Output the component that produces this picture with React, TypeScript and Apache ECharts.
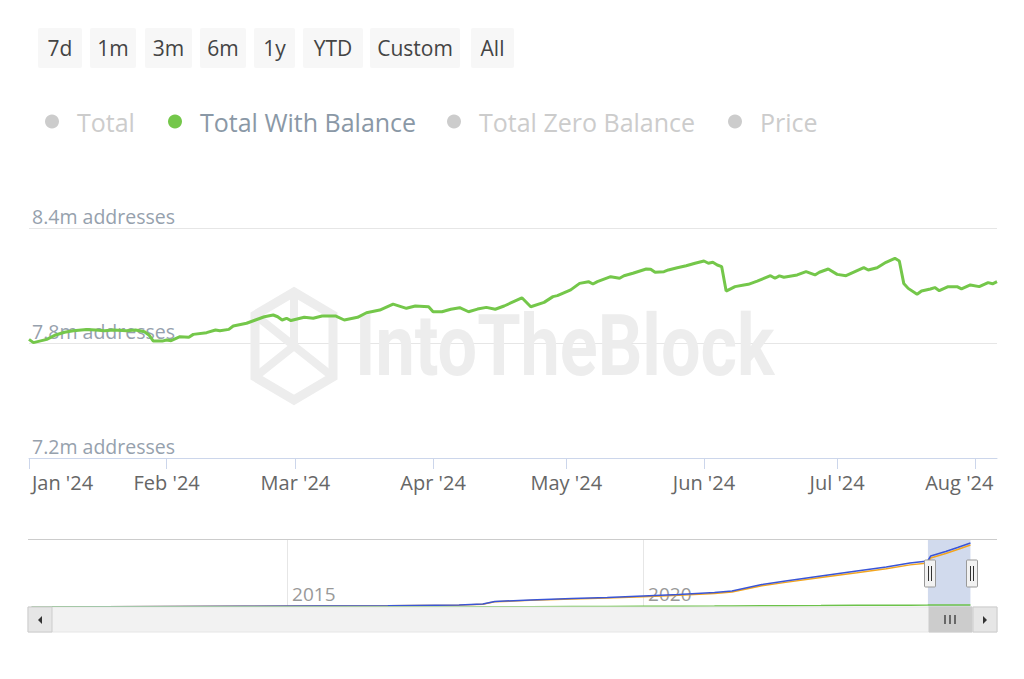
import React, { useEffect, useRef } from 'react';
import * as echarts from 'echarts';

const FONT = "'Open Sans', 'Noto Sans', sans-serif";

const rangeButtons = ['7d', '1m', '3m', '6m', '1y', 'YTD', 'Custom', 'All'];
const legendNames = ['Total', 'Total With Balance', 'Total Zero Balance', 'Price'];

const monthStarts = ['2024-01-01', '2024-02-01', '2024-03-01', '2024-04-01', '2024-05-01', '2024-06-01', '2024-07-01', '2024-08-01'];
const monthLabels = ["Jan '24", "Feb '24", "Mar '24", "Apr '24", "May '24", "Jun '24", "Jul '24", "Aug '24"];
const yTickStep = 0.6;
const yMin = 7.2;
const yMax = 8.4;

const navYears = ['2015-01-01', '2020-01-01'];
const navYearLabels = ['2015', '2020'];

// Total With Balance (millions of addresses), Jan - Aug 2024
const dates = [
  '2024-01-01', '2024-01-02', '2024-01-05', '2024-01-07', '2024-01-09', '2024-01-11', '2024-01-14', '2024-01-16',
  '2024-01-18', '2024-01-20', '2024-01-23', '2024-01-25', '2024-01-27', '2024-01-28', '2024-01-29', '2024-01-31',
  '2024-02-01', '2024-02-02', '2024-02-04', '2024-02-06', '2024-02-07', '2024-02-10', '2024-02-12', '2024-02-13',
  '2024-02-15', '2024-02-16', '2024-02-19', '2024-02-21', '2024-02-23', '2024-02-25', '2024-02-26', '2024-02-27',
  '2024-02-28', '2024-02-29', '2024-03-03', '2024-03-05', '2024-03-07', '2024-03-10', '2024-03-12', '2024-03-15',
  '2024-03-17', '2024-03-20', '2024-03-23', '2024-03-26', '2024-03-28', '2024-03-31', '2024-04-01', '2024-04-03',
  '2024-04-05', '2024-04-07', '2024-04-09', '2024-04-11', '2024-04-13', '2024-04-15', '2024-04-17', '2024-04-21',
  '2024-04-23', '2024-04-26', '2024-04-28', '2024-04-29', '2024-05-02', '2024-05-04', '2024-05-06', '2024-05-07',
  '2024-05-08', '2024-05-11', '2024-05-13', '2024-05-14', '2024-05-16', '2024-05-19', '2024-05-20', '2024-05-21',
  '2024-05-23', '2024-05-24', '2024-05-26', '2024-05-28', '2024-05-30', '2024-06-01', '2024-06-02', '2024-06-03',
  '2024-06-04', '2024-06-05', '2024-06-06', '2024-06-08', '2024-06-10', '2024-06-11', '2024-06-13', '2024-06-16',
  '2024-06-17', '2024-06-18', '2024-06-19', '2024-06-22', '2024-06-24', '2024-06-26', '2024-06-27', '2024-06-29',
  '2024-07-01', '2024-07-03', '2024-07-05', '2024-07-07', '2024-07-08', '2024-07-10', '2024-07-12', '2024-07-14',
  '2024-07-15', '2024-07-16', '2024-07-17', '2024-07-19', '2024-07-20', '2024-07-22', '2024-07-23', '2024-07-24',
  '2024-07-26', '2024-07-28', '2024-07-29', '2024-07-31', '2024-08-02', '2024-08-04', '2024-08-05', '2024-08-06',
];
const totalWithBalance = [
  7.819, 7.802, 7.819, 7.842, 7.856, 7.864, 7.871, 7.868,
  7.864, 7.868, 7.864, 7.868, 7.859, 7.842, 7.810, 7.810,
  7.816, 7.812, 7.833, 7.830, 7.845, 7.854, 7.868, 7.864,
  7.871, 7.889, 7.903, 7.920, 7.937, 7.946, 7.937, 7.920,
  7.929, 7.917, 7.934, 7.929, 7.941, 7.941, 7.920, 7.934,
  7.958, 7.972, 8.003, 7.981, 7.993, 7.989, 7.963, 7.963,
  7.976, 7.984, 7.963, 7.977, 7.986, 7.976, 7.993, 8.036,
  7.989, 8.012, 8.042, 8.047, 8.077, 8.111, 8.120, 8.108,
  8.120, 8.146, 8.138, 8.151, 8.164, 8.186, 8.185, 8.169,
  8.172, 8.181, 8.193, 8.203, 8.216, 8.228, 8.216, 8.221,
  8.207, 8.198, 8.071, 8.094, 8.103, 8.106, 8.123, 8.151,
  8.138, 8.150, 8.143, 8.155, 8.172, 8.155, 8.169, 8.186,
  8.158, 8.151, 8.172, 8.193, 8.181, 8.193, 8.221, 8.242,
  8.228, 8.111, 8.085, 8.054, 8.071, 8.082, 8.089, 8.073,
  8.094, 8.094, 8.082, 8.103, 8.094, 8.115, 8.109, 8.120,
];

// Navigator (full history, millions)
const navDates = [
  '2011-06-01', '2012-06-01', '2013-06-01', '2014-06-01', '2015-06-01', '2016-06-01', '2017-06-01', '2017-10-01',
  '2017-12-01', '2018-06-01', '2019-01-01', '2019-07-01', '2020-01-01', '2020-07-01', '2021-01-01', '2021-04-01',
  '2021-09-01', '2022-01-01', '2022-07-01', '2023-01-01', '2023-06-01', '2023-10-01', '2023-12-31', '2024-01-15',
  '2024-04-01', '2024-06-01', '2024-08-06',
];
const navTotal = [0.5, 1, 2, 3, 4, 5, 8, 12, 22, 28, 34, 38, 44, 50, 58, 64, 90, 104, 124, 144, 160, 176, 184, 204, 222, 238, 256];
const navZeroBalance = [0.5, 1, 2, 3, 4, 5, 7.5, 11, 21, 26.5, 32, 35.5, 41, 46.5, 54, 59.6, 85, 98.5, 118, 137, 152.8, 168.5, 176.2, 196.1, 214, 230, 247.9];
const navWithBalance = [0, 0, 0, 0, 0, 0, 0.5, 1, 1, 1.5, 2, 2.5, 3, 3.5, 4, 4.4, 5, 5.5, 6, 7, 7.2, 7.5, 7.8, 7.9, 8, 8, 8.1];

const ts = (s: string) => Date.parse(s + 'T00:00:00Z');

export default function App() {
  const ref = useRef<HTMLDivElement>(null);

  useEffect(() => {
    if (!ref.current) return;
    const chart = echarts.init(ref.current, null, { renderer: 'svg' });

    const monthTs = monthStarts.map(ts);
    const navYearTs = navYears.map(ts);
    const mainData = dates.map((d, i) => [ts(d), totalWithBalance[i]]);
    const navT = navDates.map((d, i) => [ts(d), navTotal[i]]);
    const navZ = navDates.map((d, i) => [ts(d), navZeroBalance[i]]);
    const navW = navDates.map((d, i) => [ts(d), navWithBalance[i]]);

    const green = '#74c74a';
    const selected: Record<string, boolean> = {
      'Total': false,
      'Total With Balance': true,
      'Total Zero Balance': false,
      'Price': false,
    };
    const legendLefts = [45, 168, 447, 728];
    const legends = legendNames.map((n, i) => ({
      data: [n],
      left: legendLefts[i],
      top: 109,
      padding: 0,
      icon: 'circle',
      itemWidth: 40,
      itemHeight: 14,
      selected,
      inactiveColor: '#cccccc',
      textStyle: { fontSize: 25, fontFamily: FONT, color: '#8a98a6' },
    }));

    const btnBoxes = [[38, 44], [90, 46], [145, 47], [200, 46], [254, 41], [303, 60], [370, 90], [471, 43]];
    const graphics: any[] = [];
    rangeButtons.forEach((b, i) => {
      const [x, w] = btnBoxes[i];
      graphics.push({
        type: 'rect', z: 5,
        shape: { x, y: 28, width: w, height: 40, r: 2 },
        style: { fill: '#f7f7f7' },
      });
      graphics.push({
        type: 'text', z: 6, x: x + w / 2, y: 48,
        style: {
          text: b, fill: '#444444', font: `21px ${FONT}`,
          align: 'center', verticalAlign: 'middle', textAlign: 'center', textVerticalAlign: 'middle',
        },
      });
    });

    // watermark
    const wm = '#ededed';
    graphics.push({
      type: 'group', x: 355, y: 345, scaleX: 0.815, z: 1,
      children: [{
        type: 'text', x: 0, y: 0, z: 1,
        style: {
          text: 'IntoTheBlock', fill: wm, font: `bold 86px Roboto, ${FONT}`,
          align: 'left', verticalAlign: 'middle', textAlign: 'left', textVerticalAlign: 'middle',
        },
      }],
    });
    graphics.push({
      type: 'polygon', z: 1,
      shape: { points: [[294, 292], [333, 315], [333, 377], [294, 400], [255, 377], [255, 315]] },
      style: { fill: 'none', stroke: wm, lineWidth: 9 },
    });
    graphics.push({
      type: 'polyline', z: 1,
      shape: { points: [[294, 292], [294, 346], [255, 377]] },
      style: { fill: 'none', stroke: wm, lineWidth: 8 },
    });
    graphics.push({
      type: 'polyline', z: 1,
      shape: { points: [[255, 315], [333, 377]] },
      style: { fill: 'none', stroke: wm, lineWidth: 8 },
    });

    // navigator outline and handles
    graphics.push({
      type: 'line', z: 8,
      shape: { x1: 28, y1: 539.5, x2: 997, y2: 539.5 },
      style: { stroke: '#cccccc', lineWidth: 1 },
    });
    [930, 972].forEach((hx) => {
      graphics.push({
        type: 'rect', z: 20,
        shape: { x: hx - 5.5, y: 560, width: 11, height: 27, r: 1 },
        style: { fill: '#f2f2f2', stroke: '#999999', lineWidth: 1 },
      });
      graphics.push({
        type: 'line', z: 21,
        shape: { x1: hx - 1.5, y1: 566, x2: hx - 1.5, y2: 581 },
        style: { stroke: '#333333', lineWidth: 1 },
      });
      graphics.push({
        type: 'line', z: 21,
        shape: { x1: hx + 1.5, y1: 566, x2: hx + 1.5, y2: 581 },
        style: { stroke: '#333333', lineWidth: 1 },
      });
    });
    // scrollbar
    graphics.push({ type: 'rect', z: 8, shape: { x: 28, y: 607, width: 969, height: 25 }, style: { fill: '#f2f2f2', stroke: '#e6e6e6', lineWidth: 1 } });
    graphics.push({ type: 'rect', z: 9, shape: { x: 28, y: 607, width: 24, height: 25 }, style: { fill: '#e6e6e6', stroke: '#cccccc', lineWidth: 1 } });
    graphics.push({ type: 'rect', z: 9, shape: { x: 973, y: 607, width: 24, height: 25 }, style: { fill: '#e6e6e6', stroke: '#cccccc', lineWidth: 1 } });
    graphics.push({ type: 'rect', z: 9, shape: { x: 929, y: 607, width: 43, height: 25 }, style: { fill: '#cccccc', stroke: '#cccccc', lineWidth: 1 } });
    [945, 950, 955].forEach((lx) => {
      graphics.push({ type: 'line', z: 10, shape: { x1: lx, y1: 615, x2: lx, y2: 624 }, style: { stroke: '#333333', lineWidth: 1.3 } });
    });
    graphics.push({ type: 'polygon', z: 10, shape: { points: [[42, 616], [42, 624], [38, 620]] }, style: { fill: '#333333' } });
    graphics.push({ type: 'polygon', z: 10, shape: { points: [[983, 616], [983, 624], [987, 620]] }, style: { fill: '#333333' } });

    const option: any = {
      animation: false,
      backgroundColor: '#ffffff',
      textStyle: { fontFamily: FONT },
      legend: legends,
      graphic: { elements: graphics },
      grid: [
        { left: 29, right: 27, top: 228, bottom: 221, containLabel: false },
        { left: 28, right: 52, top: 539, bottom: 72, containLabel: false },
      ],
      xAxis: [
        {
          type: 'value', gridIndex: 0,
          min: ts('2024-01-01'), max: ts('2024-08-06'),
          axisLine: { show: true, lineStyle: { color: '#ccd6eb', width: 1 } },
          axisTick: { show: true, customValues: monthTs, length: 11, lineStyle: { color: '#ccd6eb' } },
          splitLine: { show: false },
          axisLabel: {
            customValues: monthTs,
            margin: 14,
            fontSize: 20, fontFamily: FONT, color: '#666666',
            formatter: (v: number) => {
              const i = monthTs.indexOf(v);
              const lab = i >= 0 ? monthLabels[i] : '';
              if (i === 0) return `{first|${lab}}`;
              if (i === monthLabels.length - 1) return `{last|${lab}}`;
              return lab;
            },
            rich: {
              first: { padding: [0, 0, 0, 67], fontSize: 20, fontFamily: FONT, color: '#666666' },
              last: { padding: [0, 31, 0, 0], fontSize: 20, fontFamily: FONT, color: '#666666' },
            },
          },
        },
        {
          type: 'value', gridIndex: 1,
          min: ts('2011-05-13'), max: ts('2024-08-14'),
          axisLine: { show: false },
          axisTick: { show: false, customValues: navYearTs },
          splitLine: { show: true, lineStyle: { color: '#e6e6e6', width: 1 } },
          axisLabel: {
            customValues: navYearTs,
            inside: true,
            margin: 4,
            align: 'left',
            padding: [0, 0, 0, 5],
            fontSize: 19, fontFamily: FONT, color: '#999999',
            formatter: (v: number) => {
              const i = navYearTs.indexOf(v);
              return i >= 0 ? navYearLabels[i] : '';
            },
          },
        },
      ],
      yAxis: [
        {
          type: 'value', gridIndex: 0,
          min: yMin, max: yMax, interval: yTickStep,
          axisLine: { show: false },
          axisTick: { show: false },
          splitLine: { show: true, lineStyle: { color: '#e6e6e6', width: 1 } },
          axisLabel: {
            inside: true,
            margin: 3,
            verticalAlign: 'bottom',
            padding: [0, 0, 2, 0],
            fontSize: 19.5, fontFamily: FONT, color: '#96a1ad',
            formatter: (v: number) => `${v.toFixed(1)}m addresses`,
          },
        },
        {
          type: 'value', gridIndex: 1, min: 0, max: 272,
          show: false,
          splitLine: { show: false },
        },
      ],
      series: [
        {
          name: 'Total With Balance', type: 'line', xAxisIndex: 0, yAxisIndex: 0,
          data: mainData, showSymbol: false, symbol: 'none',
          color: green,
          lineStyle: { color: green, width: 3 },
          z: 5,
        },
        { name: 'Total', type: 'line', xAxisIndex: 0, yAxisIndex: 0, data: [], color: '#3a55d6', showSymbol: false },
        { name: 'Total Zero Balance', type: 'line', xAxisIndex: 0, yAxisIndex: 0, data: [], color: '#f2a51f', showSymbol: false },
        { name: 'Price', type: 'line', xAxisIndex: 0, yAxisIndex: 0, data: [], color: '#888888', showSymbol: false },
        {
          name: 'navZero', type: 'line', xAxisIndex: 1, yAxisIndex: 1,
          data: navZ, showSymbol: false, symbol: 'none', silent: true,
          lineStyle: { color: '#f2a51f', width: 1.5 }, z: 3,
          markArea: {
            silent: true,
            itemStyle: { color: 'rgba(102,133,194,0.3)' },
            data: [[{ xAxis: ts('2024-01-01') }, { xAxis: ts('2024-08-06') }]],
          },
        },
        {
          name: 'navTotal', type: 'line', xAxisIndex: 1, yAxisIndex: 1,
          data: navT, showSymbol: false, symbol: 'none', silent: true,
          lineStyle: { color: '#3a55d6', width: 1.5 }, z: 4,
        },
        {
          name: 'navWith', type: 'line', xAxisIndex: 1, yAxisIndex: 1,
          data: navW, showSymbol: false, symbol: 'none', silent: true,
          lineStyle: { color: '#6cc24a', width: 1.5 }, z: 4,
        },
      ],
    };

    chart.setOption(option);
    return () => chart.dispose();
  }, []);

  return (
    <div
      ref={ref}
      style={{ position: 'fixed', left: 0, top: 0, width: 1024, height: 679, background: '#ffffff' }}
    />
  );
}
